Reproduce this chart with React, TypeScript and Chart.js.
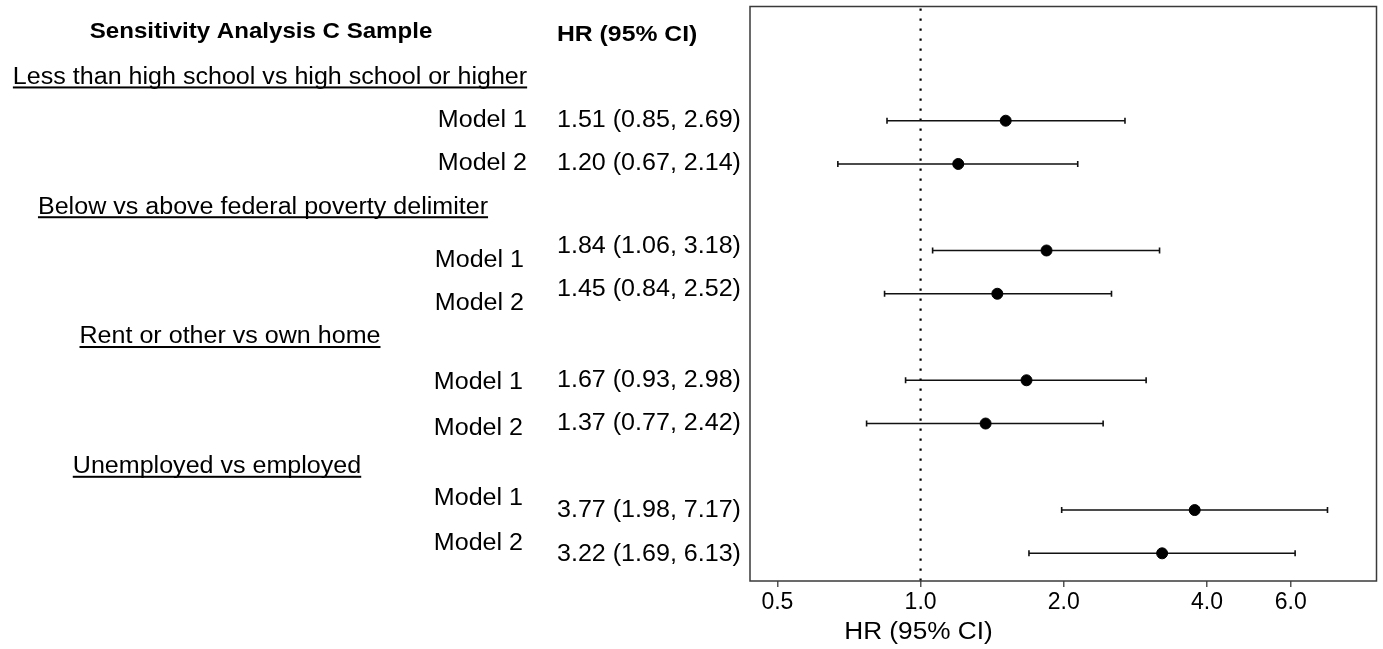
import React, { useEffect, useRef } from "react";
import { Chart, registerables } from "chart.js";

Chart.register(...registerables);

// ---------- data ----------
const titleText = "Sensitivity Analysis C Sample";
const hrHeader = "HR (95% CI)";
const axisTitle = "HR (95% CI)";
const groups = [
  "Less than high school vs high school or higher",
  "Below vs above federal poverty delimiter",
  "Rent or other vs own home",
  "Unemployed vs employed",
];
const models = ["Model 1", "Model 2"];
const hr = [1.51, 1.2, 1.84, 1.45, 1.67, 1.37, 3.77, 3.22];
const lower = [0.85, 0.67, 1.06, 0.84, 0.93, 0.77, 1.98, 1.69];
const upper = [2.69, 2.14, 3.18, 2.52, 2.98, 2.42, 7.17, 6.13];
const xTicks = [0.5, 1, 2, 4, 6];

// ---------- layout (positions / styles, not data) ----------
const FONT = '"Liberation Sans", Arial, Helvetica, sans-serif';
const SX = 1.09; // horizontal stretch of the reference text
const groupCenterX = [270, 263, 230, 217];
const modelRightX = [527, 524, 523, 523];
const modelDy = [
  [0, 0],
  [10, 10],
  [2, 5],
  [-11, -10],
];
const hrDy = [
  [0, 0],
  [-4, -4],
  [0, 0],
  [1, 1],
];
const hrLeftX = 557;

function rowOf(i: number) {
  const g = Math.floor(i / 2);
  return 2 + 3 * g + (i % 2);
}

function drawText(
  ctx: CanvasRenderingContext2D,
  text: string,
  x: number,
  y: number,
  align: CanvasTextAlign,
  font: string,
  sx: number,
  underline = false
) {
  ctx.save();
  ctx.font = font;
  ctx.fillStyle = "#000";
  ctx.textBaseline = "middle";
  ctx.textAlign = align;
  ctx.translate(x, y);
  ctx.scale(sx, 1);
  ctx.fillText(text, 0, 0);
  if (underline) {
    const w = ctx.measureText(text).width;
    let x0 = 0;
    if (align === "center") x0 = -w / 2;
    else if (align === "right") x0 = -w;
    ctx.fillRect(x0, 9, w, 2);
  }
  ctx.restore();
}

const forestPlugin = {
  id: "forest",
  beforeDatasetsDraw(chart: any) {
    const { ctx, chartArea, scales } = chart;
    const xs = scales.x;
    const ys = scales.y;
    // reference line at HR = 1
    const x1 = xs.getPixelForValue(1);
    ctx.save();
    ctx.strokeStyle = "#000";
    ctx.lineWidth = 2.2;
    ctx.setLineDash([2.2, 7.8]);
    ctx.beginPath();
    ctx.moveTo(x1, chartArea.top + 2);
    ctx.lineTo(x1, chartArea.bottom);
    ctx.stroke();
    ctx.restore();
    // confidence intervals
    ctx.save();
    ctx.strokeStyle = "#111";
    ctx.lineWidth = 1.6;
    for (let i = 0; i < hr.length; i++) {
      const y = ys.getPixelForValue(rowOf(i));
      const a = xs.getPixelForValue(lower[i]);
      const b = xs.getPixelForValue(upper[i]);
      ctx.beginPath();
      ctx.moveTo(a, y);
      ctx.lineTo(b, y);
      ctx.moveTo(a, y - 3);
      ctx.lineTo(a, y + 3);
      ctx.moveTo(b, y - 3);
      ctx.lineTo(b, y + 3);
      ctx.stroke();
    }
    ctx.restore();
  },
  afterDraw(chart: any) {
    const { ctx, chartArea, scales } = chart;
    const ys = scales.y;
    const xs = scales.x;
    // box
    ctx.save();
    ctx.strokeStyle = "#3a3a3a";
    ctx.lineWidth = 1.5;
    ctx.strokeRect(
      chartArea.left,
      chartArea.top,
      chartArea.right - chartArea.left,
      chartArea.bottom - chartArea.top
    );
    ctx.restore();

    const reg = `23px ${FONT}`;
    const bold = `bold 22.5px ${FONT}`;
    // headers
    drawText(ctx, titleText, 261, ys.getPixelForValue(0) - 2, "center", bold, 1.07);
    drawText(ctx, hrHeader, hrLeftX, ys.getPixelForValue(0) + 1, "left", bold, 1.1);
    // groups
    groups.forEach((g, gi) => {
      const yh = ys.getPixelForValue(1 + 3 * gi);
      drawText(ctx, g, groupCenterX[gi], yh, "center", reg, SX, true);
      models.forEach((m, mi) => {
        const i = gi * 2 + mi;
        const y = ys.getPixelForValue(rowOf(i));
        drawText(ctx, m, modelRightX[gi], y + modelDy[gi][mi], "right", reg, SX);
        const label = `${hr[i].toFixed(2)} (${lower[i].toFixed(2)}, ${upper[i].toFixed(2)})`;
        drawText(ctx, label, hrLeftX, y + hrDy[gi][mi], "left", reg, SX);
      });
    });
    // x axis title
    drawText(ctx, axisTitle, xs.getPixelForValue(0.99), 633, "center", reg, 1.14);
  },
};

export default function App() {
  const ref = useRef<HTMLCanvasElement | null>(null);
  useEffect(() => {
    if (!ref.current) return;
    const chart = new Chart(ref.current, {
      type: "scatter",
      data: {
        datasets: [
          {
            data: hr.map((v, i) => ({ x: v, y: rowOf(i) })),
            backgroundColor: "#000",
            borderColor: "#000",
            pointRadius: 5.5,
            pointHoverRadius: 5.5,
          },
        ],
      },
      options: {
        animation: false,
        responsive: false,
        layout: { padding: { left: 750, right: 5, top: 4, bottom: 0 } },
        plugins: { legend: { display: false }, tooltip: { enabled: false } },
        scales: {
          x: {
            type: "logarithmic",
            min: 0.4379,
            max: 9.09,
            afterBuildTicks: (scale: any) => {
              scale.ticks = xTicks.map((v) => ({ value: v }));
            },
            afterFit: (scale: any) => {
              scale.height = 68;
            },
            border: { display: false },
            grid: {
              display: true,
              drawOnChartArea: false,
              drawTicks: true,
              tickLength: 6,
              color: "#555",
              lineWidth: 1.5,
            },
            ticks: {
              autoSkip: false,
              maxRotation: 0,
              padding: 2,
              color: "#000",
              font: { size: 23, family: FONT },
              callback: (v: any) => Number(v).toFixed(1),
            },
          },
          y: {
            type: "linear",
            min: -0.64,
            max: 12.64,
            reverse: true,
            display: false,
          },
        },
      },
      plugins: [forestPlugin],
    });
    return () => chart.destroy();
  }, []);
  return (
    <div style={{ position: "absolute", left: 0, top: 0, width: 1383, height: 649, background: "#fff" }}>
      <canvas ref={ref} width={1383} height={649} style={{ display: "block" }} />
    </div>
  );
}
